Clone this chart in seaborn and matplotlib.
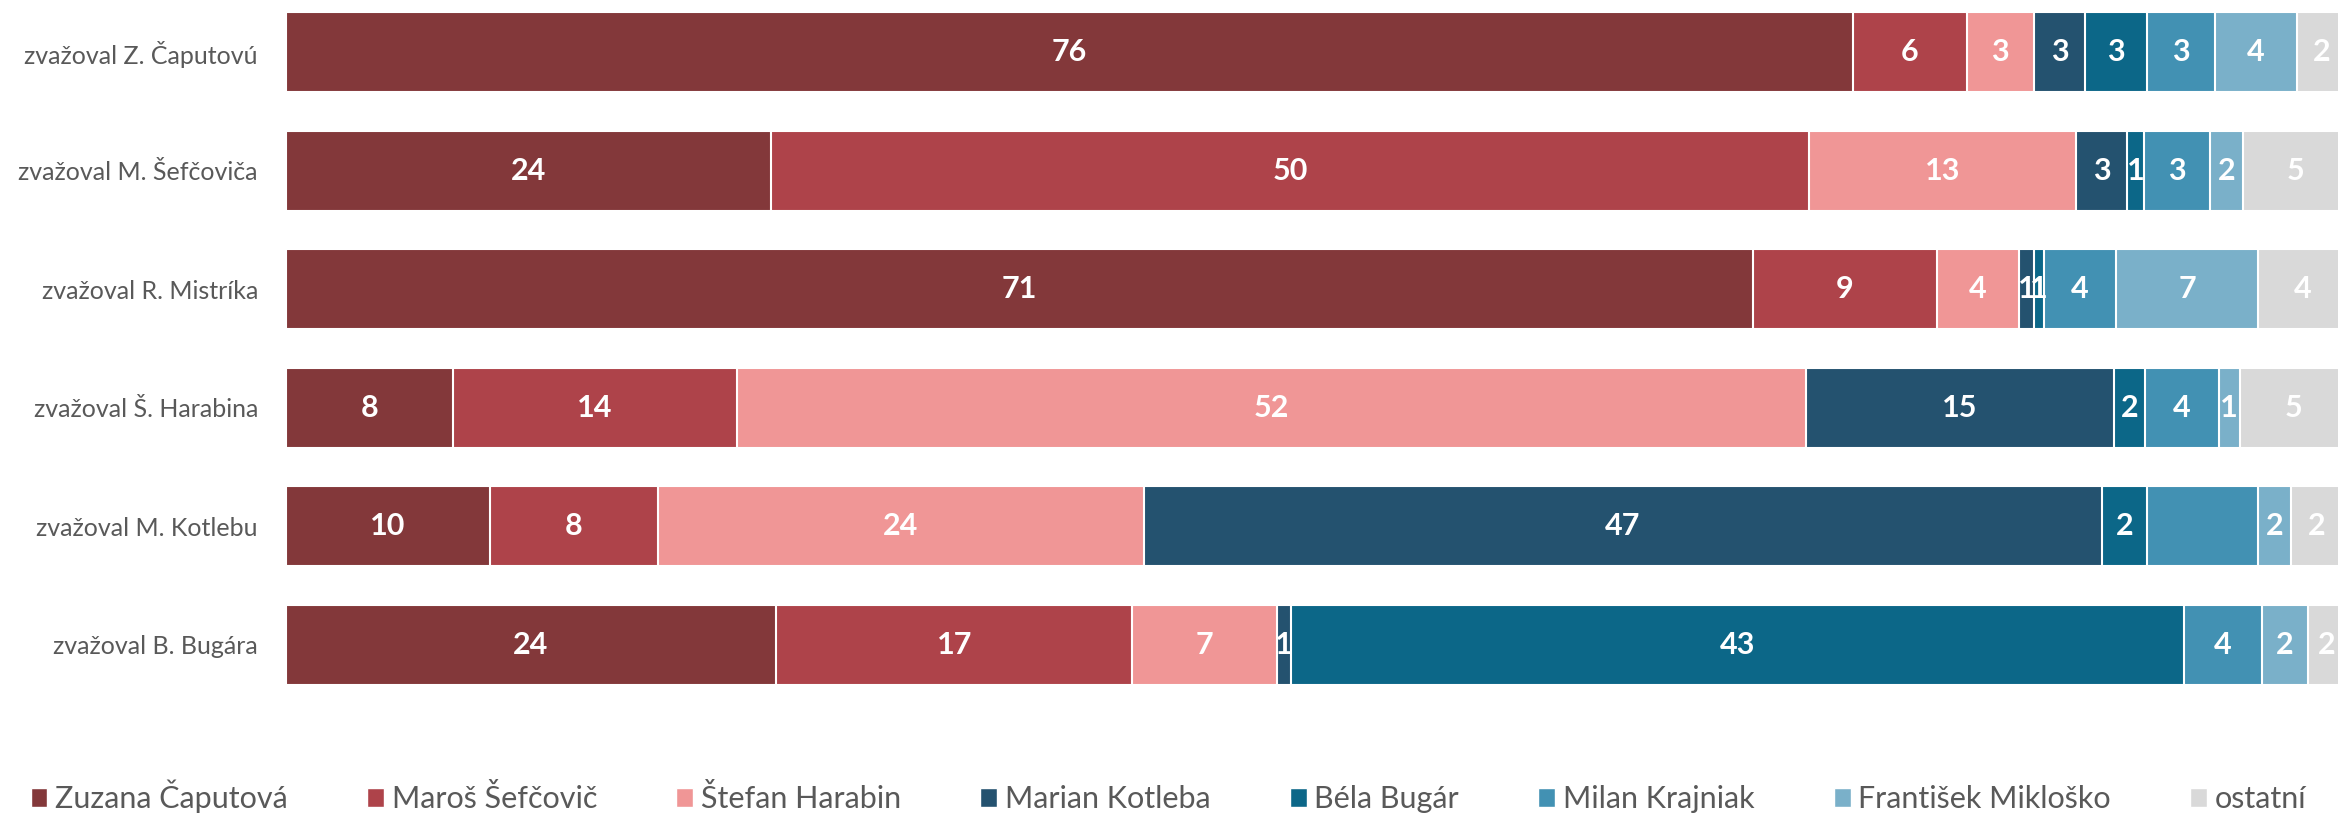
import matplotlib

matplotlib.use("Agg")
import matplotlib.pyplot as plt
import numpy as np
import pandas as pd
import seaborn as sns
from matplotlib.patches import Patch

ROWS = [
    "zvažoval Z. Čaputovú",
    "zvažoval M. Šefčoviča",
    "zvažoval R. Mistríka",
    "zvažoval Š. Harabina",
    "zvažoval M. Kotlebu",
    "zvažoval B. Bugára",
]
CANDIDATES = [
    "Zuzana Čaputová",
    "Maroš Šefčovič",
    "Štefan Harabin",
    "Marian Kotleba",
    "Béla Bugár",
    "Milan Krajniak",
    "František Mikloško",
    "ostatní",
]
CAPUTOVA = [76.1, 23.55, 71.25, 8.1, 9.9, 23.8]
SEFCOVIC = [5.5, 50.4, 8.9, 13.8, 8.15, 17.3]
HARABIN = [3.25, 12.95, 4.0, 51.9, 23.6, 7.0]
KOTLEBA = [2.5, 2.5, 0.7, 14.95, 46.5, 0.7]
BUGAR = [3.0, 0.8, 0.5, 1.5, 2.2, 43.35]
KRAJNIAK = [3.3, 3.2, 3.5, 3.6, 5.4, 3.8]
MIKLOSKO = [4.0, 1.6, 6.9, 1.0, 1.6, 2.2]
OSTATNI = [2.35, 5.1, 4.33, 5.25, 2.45, 1.85]
HIDDEN_LABELS = [("zvažoval M. Kotlebu", "Milan Krajniak")]

COLORS = ["#83383A", "#AE434A", "#F09696", "#24526F", "#0C6788", "#4291B3", "#7AB0C9", "#D9D9D9"]

sns.set_style("white")
plt.rcParams["font.family"] = ["Lato", "DejaVu Sans"]

df = pd.DataFrame(
    dict(zip(CANDIDATES, [CAPUTOVA, SEFCOVIC, HARABIN, KOTLEBA, BUGAR, KRAJNIAK, MIKLOSKO, OSTATNI])),
    index=ROWS,
)
cum = df.cumsum(axis=1)

fig = plt.figure(figsize=(23.38, 8.13), dpi=100)
ax = fig.add_axes([285.7 / 2338, 113 / 813, 1 - 285.7 / 2338, 700 / 813])

# stacked bars: draw longest cumulative first, shorter ones on top
for cand, color in reversed(list(zip(CANDIDATES, COLORS))):
    plot_df = pd.DataFrame({"row": ROWS, "value": cum[cand].to_numpy()})
    sns.barplot(
        data=plot_df, x="value", y="row", orient="h", color=color,
        saturation=1, width=0.675, edgecolor="white", linewidth=1.5, ax=ax,
    )

for i, row in enumerate(ROWS):
    for cand in CANDIDATES:
        if (row, cand) in HIDDEN_LABELS:
            continue
        value = df.loc[row, cand]
        center = cum.loc[row, cand] - value / 2
        ax.text(center, i, f"{int(value + 0.5)}", ha="center", va="center",
                color="white", fontsize=22, fontweight="bold")

ax.set_xlim(0, (2338 - 285.7) / 20.6)
ax.set_ylim(5.468, -0.439)
ax.set_xlabel("")
ax.set_ylabel("")
ax.set_xticks([])
ax.tick_params(axis="y", length=0, pad=20, labelsize=18, labelcolor="#595959")
sns.despine(ax=ax, left=True, bottom=True)

handles = [Patch(facecolor=c, edgecolor="white", label=n) for n, c in zip(CANDIDATES, COLORS)]
fig.legend(
    handles=handles, loc="center", bbox_to_anchor=(0.4998, 0.02), ncol=8, frameon=False,
    fontsize=22, labelcolor="#595959", handlelength=0.55, handleheight=0.55,
    handletextpad=0.25, columnspacing=2.6,
)

fig.savefig("out.png", dpi=100)
